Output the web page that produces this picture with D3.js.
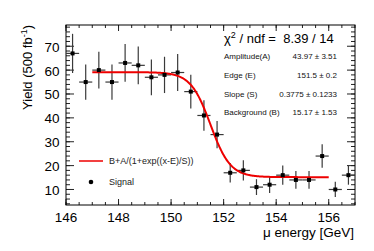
<!DOCTYPE html>
<html><head><meta charset="utf-8">
<script src="https://cdn.jsdelivr.net/npm/d3@7"></script>
<style>
html,body{margin:0;padding:0;background:#fff;}
svg{display:block;font-family:"Liberation Sans",Arial,Helvetica,sans-serif;}
</style></head>
<body>
<svg id="c" width="374" height="251"></svg>
<script>
// ---- data ----
const binCenters = [146.25,146.75,147.25,147.75,148.25,148.75,149.25,149.75,150.25,150.75,151.25,151.75,152.25,152.75,153.25,153.75,154.25,154.75,155.25,155.75,156.25,156.75];
const yields     = [67,55,60,55,63,62,57,58,59,51,41,33,17,18,11,12,16,14,14,24,10,16];
const yieldErr   = [8.2,7.4,7.7,7.4,7.9,7.9,7.5,7.6,7.7,7.1,6.4,5.7,4.1,4.2,3.3,3.5,4.0,3.7,3.7,4.9,3.2,4.0];
const binHalfWidth = 0.25;
const fitParams = {A:43.97, E:151.5, S:0.3775, B:15.17};
const fitRange = [147,156];
const xTicks = [146,148,150,152,154,156];
const yTicks = [10,20,30,40,50,60,70];
const statLabels = ["Amplitude(A)","Edge (E)","Slope (S)","Background (B)"];
const statValues = ["43.97 \u00b1 3.51","151.5 \u00b1 0.2","0.3775 \u00b1 0.1233","15.17 \u00b1 1.53"];

// ---- layout ----
const L=66, R=355, T=25, B=205;
const svg = d3.select("#c");
const x = d3.scaleLinear().domain([146,157]).range([L,R]);
const y = d3.scaleLinear().domain([3.5,78.9]).range([B,T]);

// ticks (inward, all four sides)
const xMinor = d3.range(146,157.001,0.5);
const yMinor = d3.range(4,78.9,2);
const g = svg.append("g").attr("stroke","#222").attr("stroke-width",1);
function tk(vals, len, side){
  vals.forEach(v=>{
    if(side==="b") g.append("line").attr("x1",x(v)).attr("x2",x(v)).attr("y1",B).attr("y2",B-len);
    if(side==="t") g.append("line").attr("x1",x(v)).attr("x2",x(v)).attr("y1",T).attr("y2",T+len);
    if(side==="l") g.append("line").attr("y1",y(v)).attr("y2",y(v)).attr("x1",L).attr("x2",L+len);
    if(side==="r") g.append("line").attr("y1",y(v)).attr("y2",y(v)).attr("x1",R).attr("x2",R-len);
  });
}
tk(xMinor,3,"b"); tk(xMinor,3,"t"); tk(xTicks,6,"b"); tk(xTicks,6,"t");
tk(yMinor,4,"l"); tk(yMinor,4,"r"); tk(yTicks,8,"l"); tk(yTicks,8,"r");

svg.append("rect").attr("x",L).attr("y",T).attr("width",R-L).attr("height",B-T)
  .attr("fill","none").attr("stroke","#000").attr("stroke-width",1);

// tick labels
svg.append("g").selectAll("text").data(xTicks).join("text")
  .attr("x",d=>x(d)).attr("y",222).attr("text-anchor","middle")
  .attr("font-size",13.5).attr("fill","#000").text(d=>d);
svg.append("g").selectAll("text").data(yTicks).join("text")
  .attr("x",59.5).attr("y",d=>y(d)+5.5).attr("text-anchor","end")
  .attr("font-size",13.5).attr("fill","#000").text(d=>d);

// axis titles
svg.append("text").attr("x",354).attr("y",237).attr("text-anchor","end")
  .attr("font-size",13.5).text("\u03bc energy [GeV]");
const yt = svg.append("text").attr("transform","translate(32,25) rotate(-90)")
  .attr("text-anchor","end").attr("font-size",13);
yt.append("tspan").text("Yield (500 fb");
yt.append("tspan").attr("font-size",9).attr("dy",-5).text("-1");
yt.append("tspan").attr("dy",5).text(")");

// error bars
const eb = svg.append("g").attr("stroke","#3a3a3a").attr("stroke-width",1.2);
binCenters.forEach((c,i)=>{
  eb.append("line").attr("x1",x(c-binHalfWidth)).attr("x2",x(c+binHalfWidth))
    .attr("y1",y(yields[i])).attr("y2",y(yields[i]));
  eb.append("line").attr("x1",x(c)).attr("x2",x(c))
    .attr("y1",y(yields[i]-yieldErr[i])).attr("y2",y(yields[i]+yieldErr[i]));
});

// fit curve
const fit = xv => fitParams.B + fitParams.A/(1+Math.exp((xv-fitParams.E)/fitParams.S));
const curveX = d3.range(fitRange[0], fitRange[1]+0.0001, 0.02);
svg.append("path").datum(curveX)
  .attr("d", d3.line().x(d=>x(d)).y(d=>y(fit(d))))
  .attr("fill","none").attr("stroke","#ee0000").attr("stroke-width",2);

// markers
svg.append("g").selectAll("rect").data(binCenters).join("rect")
  .attr("x",d=>x(d)-2).attr("y",(d,i)=>y(yields[i])-2)
  .attr("width",4).attr("height",4).attr("fill","#000");

// stats
const chi = svg.append("text").attr("x",224).attr("y",43).attr("font-size",13);
chi.append("tspan").text("\u03c7");
chi.append("tspan").attr("font-size",9).attr("dy",-5).text("2");
chi.append("tspan").attr("dy",5).text(" / ndf =\u00a0\u00a08.39 / 14");
statLabels.forEach((s,i)=>{
  svg.append("text").attr("x",224).attr("y",59+i*18.8).attr("font-size",8).attr("fill","#111").text(s);
  svg.append("text").attr("x",337).attr("y",59+i*18.8).attr("font-size",8).attr("fill","#111")
    .attr("text-anchor","end").text(statValues[i]);
});

// legend
svg.append("line").attr("x1",79).attr("x2",103).attr("y1",161).attr("y2",161)
  .attr("stroke","#ee0000").attr("stroke-width",1.5);
svg.append("text").attr("x",109).attr("y",164).attr("font-size",9).attr("fill","#222")
  .text("B+A/(1+exp((x-E)/S))");
svg.append("circle").attr("cx",91).attr("cy",182).attr("r",2.3).attr("fill","#000");
svg.append("text").attr("x",109).attr("y",185).attr("font-size",9).attr("fill","#222").text("Signal");
</script>
</body></html>
